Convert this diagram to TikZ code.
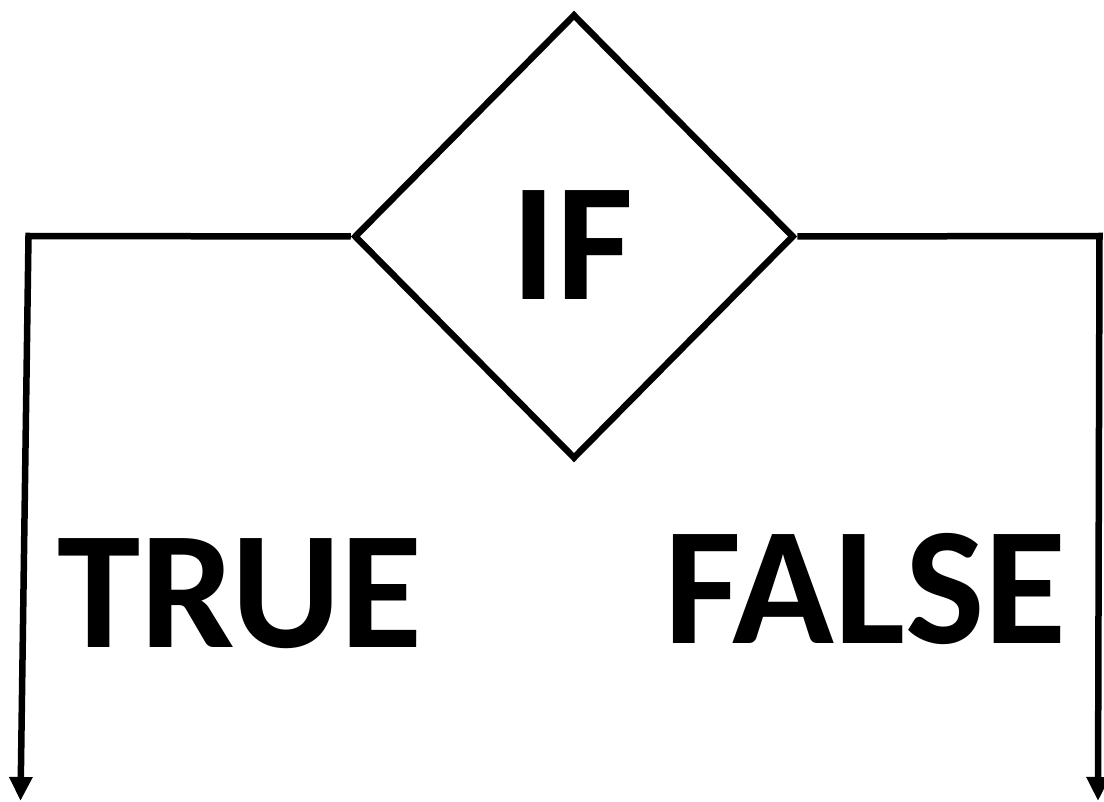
\documentclass[tikz,border=0pt]{standalone}
\usepackage{fontspec}
\setmainfont{Carlito}
\usetikzlibrary{shapes.geometric,arrows.meta}
\begin{document}
\begin{tikzpicture}[x=1pt,y=-1pt,
  conn/.style={line width=6.5pt,line join=miter},
  arr/.style={conn,-{Triangle[length=24pt,width=22pt]}},
  bigtext/.style={inner sep=0pt,anchor=base,font=\fontsize{168}{168}\selectfont\bfseries}]
\useasboundingbox (0,0) rectangle (1104,802);
\node[draw,line width=6.5pt,shape=diamond,minimum width=440pt,minimum height=445pt,inner sep=0pt] (d) at (574,236.5) {};
\node[bigtext] (if) at (572.5,300) {IF};
\node[bigtext] (t) at (240,647) {TRUE};
\node[bigtext] (f) at (865.5,643) {FALSE};
\coordinate (tl) at (28.5,236);
\coordinate (bl) at (20.5,801);
\coordinate (tr) at (1099.5,236);
\coordinate (br) at (1098,801);
\draw[arr] (d.west) -- (tl) -- (bl);
\draw[arr] (d.east) -- (tr) -- (br);
\end{tikzpicture}
\end{document}
